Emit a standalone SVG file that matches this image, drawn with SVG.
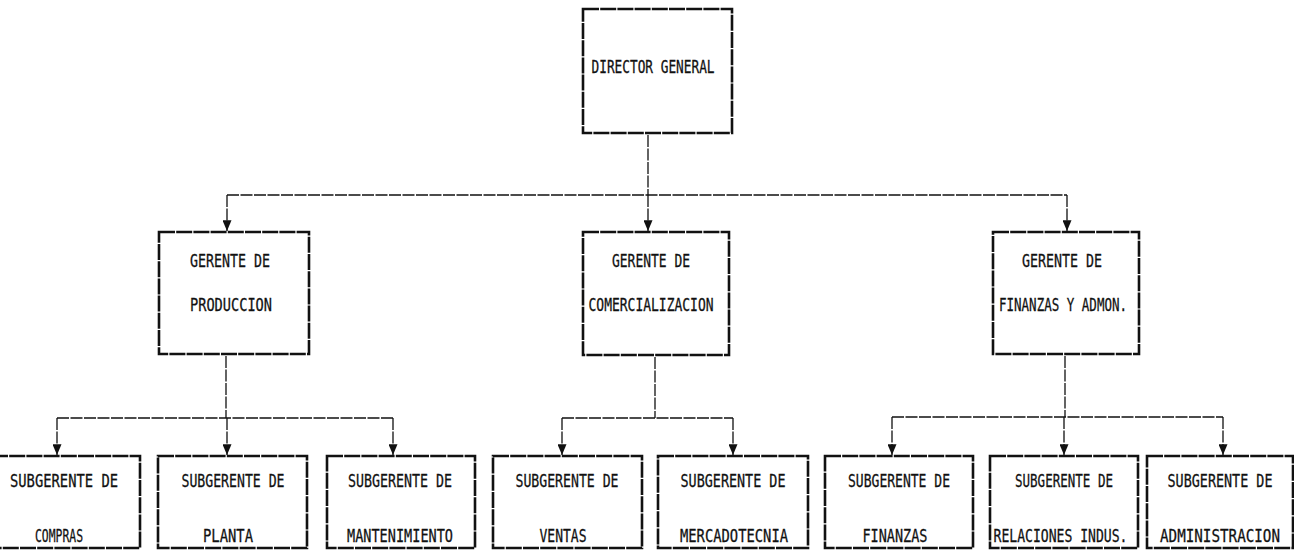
<svg xmlns="http://www.w3.org/2000/svg" width="1294" height="550" viewBox="0 0 1294 550">
<defs>
<style>
.box{fill:#fff;stroke:#111;stroke-width:2.6;stroke-dasharray:16 1.2}
.t{font-family:"DejaVu Sans Mono","Liberation Mono",monospace;font-size:18px;fill:#111;stroke:#111;stroke-width:0.3}
.c{fill:none;stroke:#111;stroke-width:1.3;stroke-dasharray:12 1.5}
</style>
<marker id="ah" viewBox="0 0 12 10" refX="12" refY="5" markerWidth="12" markerHeight="9" markerUnits="userSpaceOnUse" orient="auto">
<path d="M0,0 L12,5 L0,10 Z" fill="#111"/>
</marker>
</defs>
<rect width="1294" height="550" fill="#fff"/>
<g id="connectors">
<path class="c" d="M648,135 V195"/>
<path class="c" d="M227,195 H1067"/>
<path class="c" d="M227,195 V231" marker-end="url(#ah)"/>
<path class="c" d="M648,195 V231" marker-end="url(#ah)"/>
<path class="c" d="M1067,195 V231" marker-end="url(#ah)"/>
<path class="c" d="M226,356 V418"/>
<path class="c" d="M57,418 H393"/>
<path class="c" d="M57,418 V455" marker-end="url(#ah)"/>
<path class="c" d="M227,418 V455" marker-end="url(#ah)"/>
<path class="c" d="M393,418 V455" marker-end="url(#ah)"/>
<path class="c" d="M655,357 V418"/>
<path class="c" d="M562,418 H733"/>
<path class="c" d="M562,418 V455" marker-end="url(#ah)"/>
<path class="c" d="M733,418 V455" marker-end="url(#ah)"/>
<path class="c" d="M1065,356 V417"/>
<path class="c" d="M892,417 H1223"/>
<path class="c" d="M892,417 V455" marker-end="url(#ah)"/>
<path class="c" d="M1064,417 V455" marker-end="url(#ah)"/>
<path class="c" d="M1223,417 V455" marker-end="url(#ah)"/>
</g>
<g id="director">
<rect class="box" x="583" y="9" width="149" height="124"/>
<text class="t" x="591.5" y="72.5" textLength="123" lengthAdjust="spacingAndGlyphs">DIRECTOR GENERAL</text>
</g>
<g id="gerente-produccion">
<rect class="box" x="159" y="232" width="150" height="122"/>
<text class="t" x="190" y="266.5" textLength="80" lengthAdjust="spacingAndGlyphs">GERENTE DE</text>
<text class="t" x="190" y="310.5" textLength="82" lengthAdjust="spacingAndGlyphs">PRODUCCION</text>
</g>
<g id="gerente-comercializacion">
<rect class="box" x="583" y="232" width="146" height="123"/>
<text class="t" x="612" y="266.5" textLength="78" lengthAdjust="spacingAndGlyphs">GERENTE DE</text>
<text class="t" x="588.5" y="310.5" textLength="125" lengthAdjust="spacingAndGlyphs">COMERCIALIZACION</text>
</g>
<g id="gerente-finanzas">
<rect class="box" x="993" y="232" width="146" height="122"/>
<text class="t" x="1022" y="266.5" textLength="80" lengthAdjust="spacingAndGlyphs">GERENTE DE</text>
<text class="t" x="999" y="310.5" textLength="128" lengthAdjust="spacingAndGlyphs">FINANZAS Y ADMON.</text>
</g>
<g id="sub-compras">
<rect class="box" x="-8" y="456" width="148" height="92"/>
<text class="t" x="10" y="486.5" textLength="108" lengthAdjust="spacingAndGlyphs">SUBGERENTE DE</text>
<text class="t" x="35" y="541.5" textLength="48" lengthAdjust="spacingAndGlyphs">COMPRAS</text>
</g>
<g id="sub-planta">
<rect class="box" x="158" y="456" width="149" height="92"/>
<text class="t" x="181.5" y="486.5" textLength="103" lengthAdjust="spacingAndGlyphs">SUBGERENTE DE</text>
<text class="t" x="203" y="541.5" textLength="50" lengthAdjust="spacingAndGlyphs">PLANTA</text>
</g>
<g id="sub-mantenimiento">
<rect class="box" x="327" y="456" width="148" height="92"/>
<text class="t" x="348" y="486.5" textLength="104" lengthAdjust="spacingAndGlyphs">SUBGERENTE DE</text>
<text class="t" x="347" y="541.5" textLength="106" lengthAdjust="spacingAndGlyphs">MANTENIMIENTO</text>
</g>
<g id="sub-ventas">
<rect class="box" x="493" y="456" width="149" height="92"/>
<text class="t" x="515.5" y="486.5" textLength="103" lengthAdjust="spacingAndGlyphs">SUBGERENTE DE</text>
<text class="t" x="539.5" y="541.5" textLength="47" lengthAdjust="spacingAndGlyphs">VENTAS</text>
</g>
<g id="sub-mercadotecnia">
<rect class="box" x="658" y="456" width="150" height="92"/>
<text class="t" x="680.5" y="486.5" textLength="105" lengthAdjust="spacingAndGlyphs">SUBGERENTE DE</text>
<text class="t" x="680" y="541.5" textLength="108" lengthAdjust="spacingAndGlyphs">MERCADOTECNIA</text>
</g>
<g id="sub-finanzas">
<rect class="box" x="825" y="456" width="148" height="92"/>
<text class="t" x="848" y="486.5" textLength="102" lengthAdjust="spacingAndGlyphs">SUBGERENTE DE</text>
<text class="t" x="862.5" y="541.5" textLength="65" lengthAdjust="spacingAndGlyphs">FINANZAS</text>
</g>
<g id="sub-relaciones">
<rect class="box" x="990" y="456" width="148" height="92"/>
<text class="t" x="1015" y="486.5" textLength="98" lengthAdjust="spacingAndGlyphs">SUBGERENTE DE</text>
<text class="t" x="993.5" y="541.5" textLength="134" lengthAdjust="spacingAndGlyphs">RELACIONES INDUS.</text>
</g>
<g id="sub-administracion">
<rect class="box" x="1147" y="456" width="146" height="92"/>
<text class="t" x="1167.5" y="486.5" textLength="105" lengthAdjust="spacingAndGlyphs">SUBGERENTE DE</text>
<text class="t" x="1160" y="541.5" textLength="120" lengthAdjust="spacingAndGlyphs">ADMINISTRACION</text>
</g>
</svg>
